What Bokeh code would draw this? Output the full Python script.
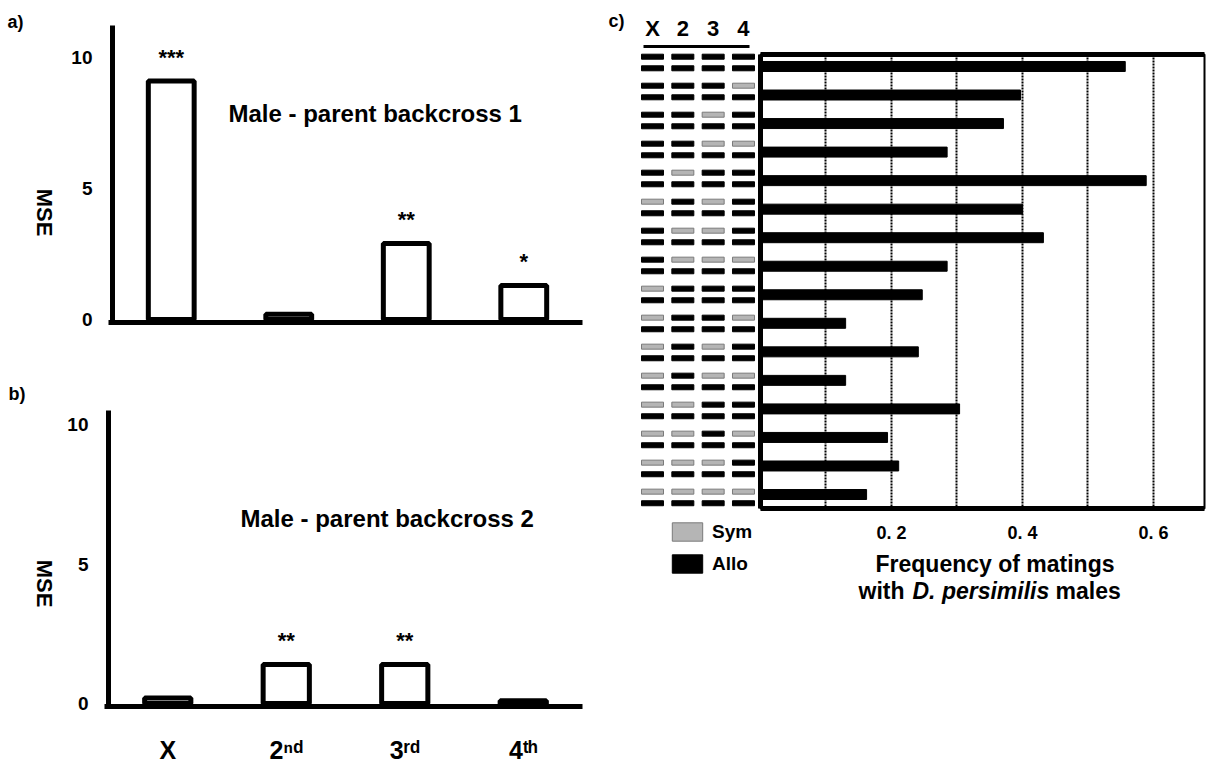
import math
from bokeh.plotting import figure
from bokeh.models import (Range1d, FixedTicker, Label, Legend, LegendItem,
                          LinearAxis, ColumnDataSource)
from bokeh.layouts import row, column
from bokeh.embed import file_html
from bokeh.resources import INLINE
from bokeh.core.properties import value

FONT = "Liberation Sans"

# ---------------- data ----------------
chrom_cats = ["X", "2ⁿᵈ", "3ʳᵈ", "4ᵗʰ"]
mse_bc1 = [9.1, 0.2, 2.9, 1.3]
sig_bc1 = ["***", "", "**", "*"]
mse_bc2 = [0.2, 1.4, 1.4, 0.1]
sig_bc2 = ["", "**", "**", ""]
mse_ticks = [0, 5, 10]

chrom_short = ["X", "2", "3", "4"]
# S = sympatric (grey), A = allopatric (black) origin of each chromosome
genotypes = ["AAAA", "AAAS", "AASA", "AASS", "ASAA", "SASA", "ASSA", "ASSS",
             "SAAA", "SAAS", "SASA", "SASS", "SSAA", "SSAS", "SSSA", "SSSS"]
freq = [0.557, 0.397, 0.371, 0.285, 0.589, 0.400, 0.432, 0.285,
        0.247, 0.130, 0.241, 0.130, 0.304, 0.194, 0.211, 0.162]
freq_ticks = [0.2, 0.4, 0.6]
freq_minor = [0.1, 0.3, 0.5]
freq_tick_labels = ["0. 2", "0. 4", "0. 6"]

SYM_COLOR = "#b5b5b5"
chrom_pos = [i + 0.5 for i in range(len(chrom_cats))]


def add_label(p, x, y, text, size, align="left", angle=0.0, style="bold"):
    p.add_layout(Label(x=x, y=y, x_units="screen", y_units="screen", text=text,
                       text_font=FONT, text_font_size=f"{size}px",
                       text_font_style=style, text_align=align,
                       text_baseline="middle", angle=angle, text_color="black"))


def bare_fig(width, height, xr, yr):
    p = figure(width=width, height=height, x_range=Range1d(*xr), y_range=Range1d(*yr),
               min_border=0, x_axis_location=None, y_axis_location=None,
               toolbar_location=None, output_backend="svg")
    p.outline_line_color = None
    p.grid.visible = False
    return p


def no_ticks(ax):
    ax.major_tick_in = ax.major_tick_out = 0
    ax.minor_tick_in = ax.minor_tick_out = 0


def bold_labels(ax, size):
    ax.major_label_text_font = FONT
    ax.major_label_text_font_style = "bold"
    ax.major_label_text_font_size = f"{size}px"
    ax.major_label_text_color = "black"


def mse_panel(vals, sig, height, xr, yr, ybounds, xbase, labels):
    p = bare_fig(600, height, xr, yr)
    p.vbar(x=chrom_pos, top=vals, bottom=0, width=0.39, fill_color="white",
           line_color="black", line_width=5)
    src = ColumnDataSource(dict(x=chrom_pos, y=vals, t=sig))
    p.text(x="x", y="y", text="t", source=src, text_align="center",
           text_baseline="alphabetic", y_offset=-24, text_font=value(FONT),
           text_font_style="bold", text_font_size="22px", text_color="black")
    ya = LinearAxis(ticker=FixedTicker(ticks=mse_ticks), fixed_location=0,
                    bounds=ybounds, axis_line_width=5, major_label_standoff=20)
    no_ticks(ya)
    bold_labels(ya, 19)
    p.add_layout(ya, "left")
    if labels:
        xa = LinearAxis(ticker=FixedTicker(ticks=chrom_pos), fixed_location=xbase,
                        bounds=(-0.03, 4.0), axis_line_width=5, major_label_standoff=29,
                        major_label_overrides=dict(zip(chrom_pos, chrom_cats)))
        bold_labels(xa, 25)
    else:
        xa = LinearAxis(ticker=FixedTicker(ticks=[]), fixed_location=xbase,
                        bounds=(-0.03, 4.0), axis_line_width=5)
    no_ticks(xa)
    p.add_layout(xa, "below")
    return p


# panel a  (canvas 600x360; y axis at 112 px, zero at 319 px)
pa = mse_panel(mse_bc1, sig_bc1, 360, (-0.953, 4.153), (-1.565, 12.176),
               (-0.19, 11.22), -0.11, False)
add_label(pa, 7, 339, "a)", 18)
add_label(pa, 44, 148, "MSE", 22, align="center", angle=-math.pi / 2)
add_label(pa, 228, 247, "Male - parent backcross 1", 24)

# panel b  (canvas 600x408)
pb = mse_panel(mse_bc2, sig_bc2, 408, (-0.9114, 4.1519), (-2.3297, 12.294),
               (-0.11, 10.5), -0.11, True)
add_label(pb, 8, 375, "b)", 18)
add_label(pb, 44, 185, "MSE", 22, align="center", angle=-math.pi / 2)
add_label(pb, 240, 250, "Male - parent backcross 2", 24)

# panel c: chromosome genotype markers
sym_x, sym_y, allo_x, allo_y = [], [], [], []
for i, g in enumerate(genotypes):
    for j, c in enumerate(g):
        if c == "S":
            sym_x.append(j); sym_y.append(i - 0.2)
        else:
            allo_x.append(j); allo_y.append(i - 0.2)
        allo_x.append(j); allo_y.append(i + 0.2)

pm = bare_fig(155, 608, (-1.7145, 3.396), (18.83, -2.138))
r_sym = pm.rect(x=sym_x, y=sym_y, width=22, height=5, width_units="screen",
                height_units="screen", fill_color=SYM_COLOR, line_color="#7a7a7a",
                line_width=1)
r_allo = pm.rect(x=allo_x, y=allo_y, width=22, height=5, width_units="screen",
                 height_units="screen", fill_color="black", line_color="black",
                 line_width=1)
ma = LinearAxis(ticker=FixedTicker(ticks=[0, 1, 2, 3]), fixed_location=-0.552,
                bounds=(-0.3, 3.2), axis_line_width=3, major_label_standoff=5,
                major_label_overrides={i: s for i, s in enumerate(chrom_short)})
no_ticks(ma)
bold_labels(ma, 22)
pm.add_layout(ma, "above")
leg = Legend(items=[LegendItem(label="Sym", renderers=[r_sym]),
                    LegendItem(label="Allo", renderers=[r_allo])],
             location=(68, 33), orientation="vertical", glyph_width=38,
             glyph_height=23, label_height=23, label_text_font=FONT,
             label_text_font_size="19px", label_text_font_style="bold",
             label_text_color="black",
             spacing=9, padding=0, margin=0, border_line_color=None,
             background_fill_alpha=0, label_standoff=6)
pm.add_layout(leg)
add_label(pm, 8, 588, "c)", 18)

# panel c: frequency bars
pc = figure(x_range=Range1d(0, 0.678), y_range=Range1d(15.49, -0.42),
            width=452, height=550, min_border_left=5, min_border_right=3,
            min_border_top=54, min_border_bottom=42,
            toolbar_location=None, output_backend="svg")
pc.outline_line_color = "black"
pc.outline_line_width = 2
pc.hbar(y=list(range(len(freq))), left=0, right=freq, height=0.35,
        fill_color="black", line_color="black")
xa = pc.xaxis[0]
xa.ticker = FixedTicker(ticks=freq_ticks, minor_ticks=freq_minor)
xa.major_label_overrides = dict(zip(freq_ticks, freq_tick_labels))
xa.axis_line_width = 5
no_ticks(xa)
xa.major_label_standoff = 14
bold_labels(xa, 18)
ya = pc.yaxis[0]
ya.ticker = FixedTicker(ticks=[])
ya.axis_line_width = 5
no_ticks(ya)
ya.major_label_standoff = 0
top_ax = LinearAxis(ticker=FixedTicker(ticks=[]), axis_line_width=5,
                    major_label_standoff=0)
no_ticks(top_ax)
pc.add_layout(top_ax, "above")
pc.ygrid.visible = False
pc.xgrid.grid_line_color = "black"
pc.xgrid.grid_line_width = 2
pc.xgrid.grid_line_dash = "2 1"
pc.xgrid.minor_grid_line_color = "black"
pc.xgrid.minor_grid_line_width = 2
pc.xgrid.minor_grid_line_dash = "2 1"

# x title of panel c (two lines, species name in italics)
pt = bare_fig(452, 60, (0, 1), (0, 1))
add_label(pt, 234.5, 47, "Frequency of matings", 23, align="center")
add_label(pt, 98, 20, "with", 23)
add_label(pt, 152, 20, "D. persimilis", 23, style="bold italic")
add_label(pt, 295, 20, "males", 23)

layout = row(column(pa, pb), pm, column(pc, pt))
open("out.html", "w").write(file_html(layout, INLINE))
